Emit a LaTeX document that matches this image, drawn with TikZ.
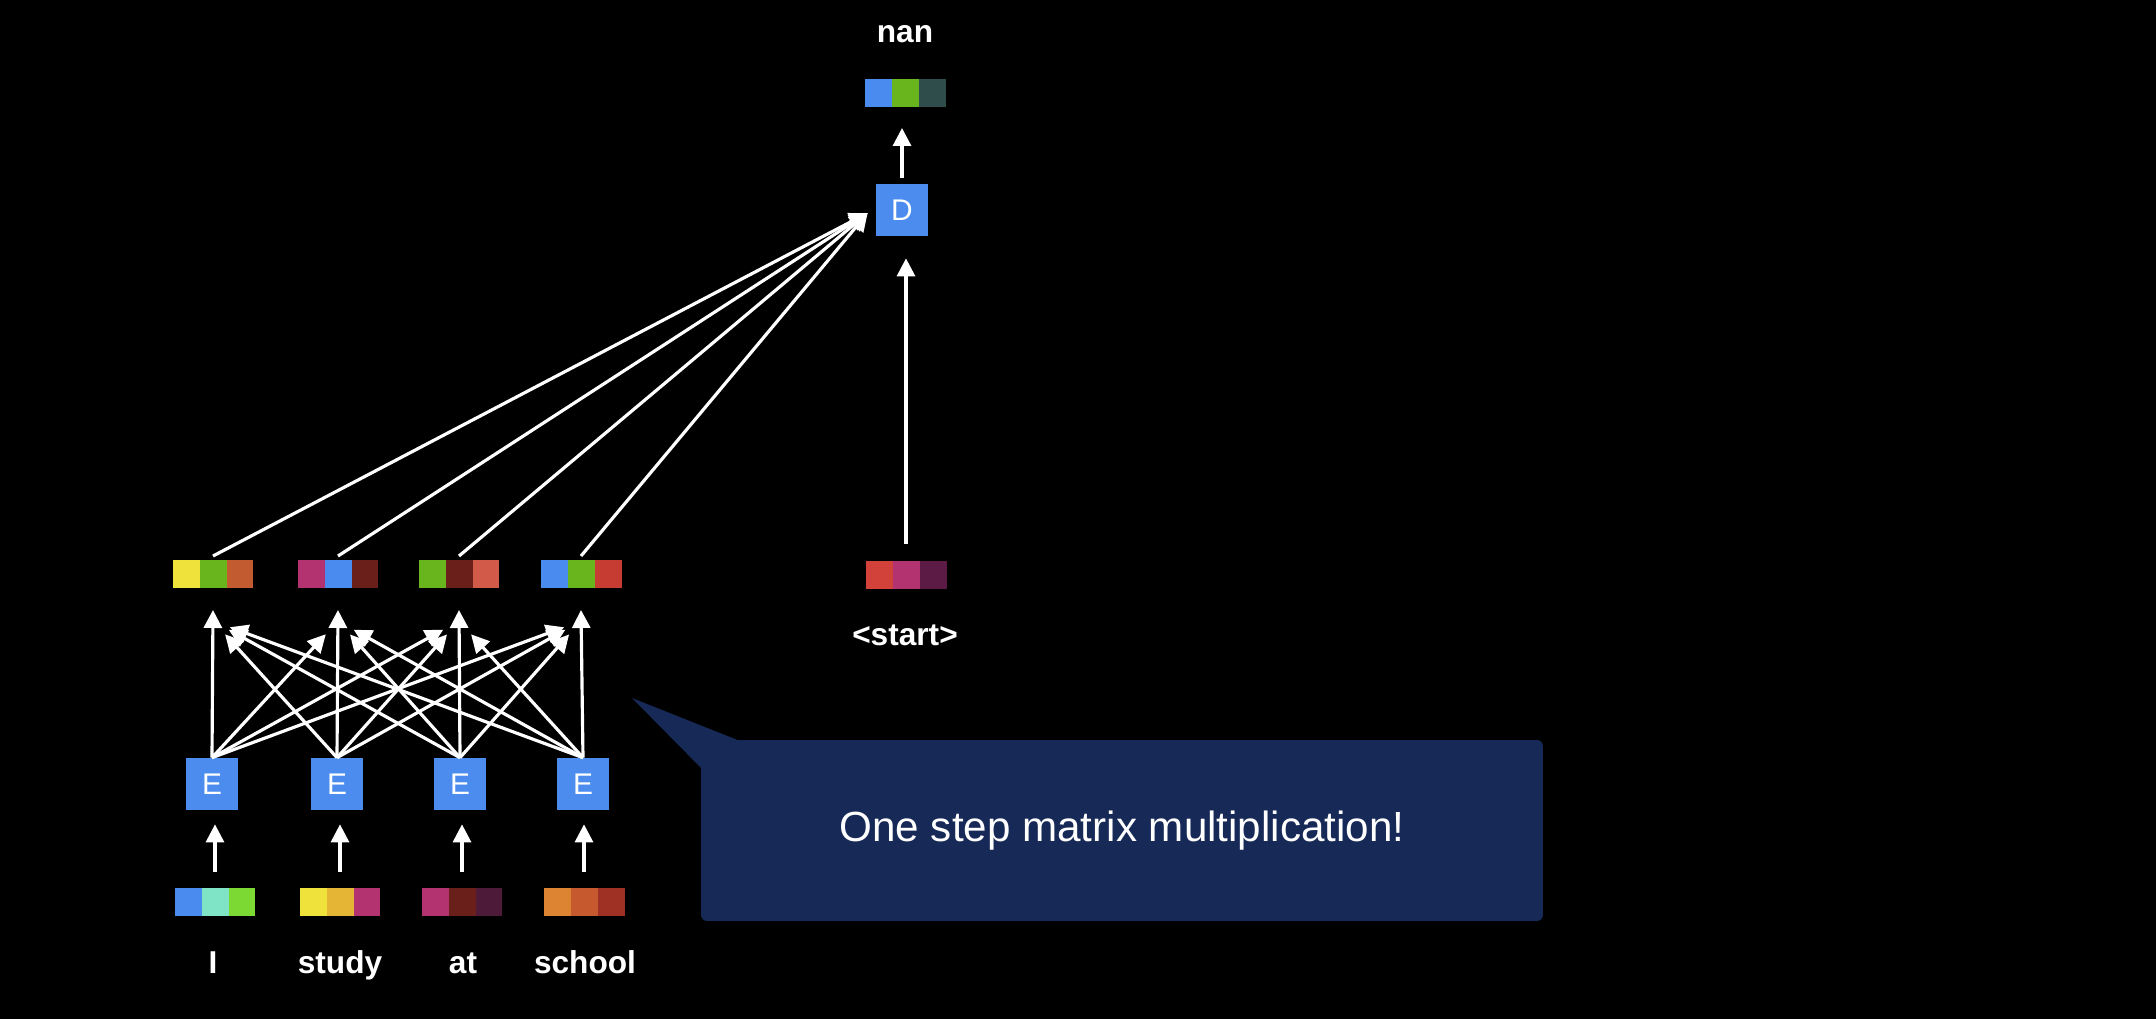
\documentclass[tikz,border=0pt]{standalone}
\usepackage{fontspec}
\setmainfont{Liberation Sans}
\usetikzlibrary{positioning}
\usetikzlibrary{arrows.meta}

\definecolor{boxblue}{HTML}{4B8CEE}
\definecolor{noteblue}{HTML}{172956}
\definecolor{vblue}{HTML}{4A8BEF}
\definecolor{vaqua}{HTML}{7FE3C6}
\definecolor{vlime}{HTML}{7CD934}
\definecolor{vyellow}{HTML}{EFE23A}
\definecolor{vamber}{HTML}{E5B535}
\definecolor{vmagenta}{HTML}{B2336F}
\definecolor{vmaroon}{HTML}{6B1F1B}
\definecolor{vplum}{HTML}{4E1A3A}
\definecolor{vorange}{HTML}{DD8433}
\definecolor{vrust}{HTML}{C65A2E}
\definecolor{vbrick}{HTML}{9E3024}
\definecolor{vgreen}{HTML}{68B51E}
\definecolor{vsienna}{HTML}{C35B30}
\definecolor{vsalmon}{HTML}{D15B48}
\definecolor{vred}{HTML}{C63B32}
\definecolor{vteal}{HTML}{2F4D4A}
\definecolor{vcoral}{HTML}{D2413A}
\definecolor{vwine}{HTML}{5B1B45}

\tikzset{
  unit/.style={fill=boxblue, minimum size=1.04cm, inner sep=0pt, text=white, font=\fontsize{17}{17}\selectfont},
  cell/.style={minimum width=0.54cm, minimum height=0.56cm, inner sep=0pt, outer sep=0pt},
  word/.style={text=white, anchor=base, font=\bfseries\fontsize{18}{18}\selectfont},
  arr/.style={draw=white, line width=1.8pt, -{Triangle[width=0.36cm,length=0.36cm]}},
  note/.style={fill=noteblue, rounded corners=0.12cm, minimum width=16.84cm, minimum height=3.62cm, text=white, font=\fontsize{24}{24}\selectfont}
}

% three coloured cells, the middle one carries the name
\newcommand{\wordvec}[5]{%
  \node[cell, fill=#4] (#1) at #2 {};
  \node[cell, fill=#3, left=0pt of #1] (#1l) {};
  \node[cell, fill=#5, right=0pt of #1] (#1r) {};
}

\begin{document}
\begin{tikzpicture}[x=0.02cm, y=-0.02cm]

\useasboundingbox (0,0) rectangle (2156,1018);
\fill[black] (-20,-20) rectangle (2176,1038);

% input words
\wordvec{b1}{(215,902)}{vblue}{vaqua}{vlime}
\wordvec{b2}{(340,902)}{vyellow}{vamber}{vmagenta}
\wordvec{b3}{(462,902)}{vmagenta}{vmaroon}{vplum}
\wordvec{b4}{(584,902)}{vorange}{vrust}{vbrick}
\node[word] (w1) at (213,973) {I};
\node[word] (w2) at (340,973) {study};
\node[word] (w3) at (463,973) {at};
\node[word] (w4) at (585,973) {school};

% encoders
\node[unit] (e1) at (212,784) {E};
\node[unit] (e2) at (337,784) {E};
\node[unit] (e3) at (460,784) {E};
\node[unit] (e4) at (583,784) {E};

\draw[arr, shorten <=0.32cm, shorten >=0.28cm] (b1.north) -- (b1.north |- e1.south);
\draw[arr, shorten <=0.32cm, shorten >=0.28cm] (b2.north) -- (b2.north |- e2.south);
\draw[arr, shorten <=0.32cm, shorten >=0.28cm] (b3.north) -- (b3.north |- e3.south);
\draw[arr, shorten <=0.32cm, shorten >=0.28cm] (b4.north) -- (b4.north |- e4.south);

% hidden states
\wordvec{h1}{(213,574)}{vyellow}{vgreen}{vsienna}
\wordvec{h2}{(338,574)}{vmagenta}{vblue}{vmaroon}
\wordvec{h3}{(459,574)}{vgreen}{vmaroon}{vsalmon}
\wordvec{h4}{(581,574)}{vblue}{vgreen}{vred}

\coordinate (t1) at ([yshift=-0.44cm]h1.south);
\coordinate (t2) at ([yshift=-0.44cm]h2.south);
\coordinate (t3) at ([yshift=-0.44cm]h3.south);
\coordinate (t4) at ([yshift=-0.44cm]h4.south);
\coordinate (c1) at ([yshift=-0.66cm]h1.south);
\coordinate (c2) at ([yshift=-0.66cm]h2.south);
\coordinate (c3) at ([yshift=-0.66cm]h3.south);
\coordinate (c4) at ([yshift=-0.66cm]h4.south);

\draw[arr] (e1.north) -- (t1);
\draw[arr] (e2.north) -- (t2);
\draw[arr] (e3.north) -- (t3);
\draw[arr] (e4.north) -- (t4);
\draw[arr, shorten >=0.36cm] (e2.north) -- (c1);
\draw[arr, shorten >=0.36cm] (e3.north) -- (c1);
\draw[arr, shorten >=0.36cm] (e4.north) -- (c1);
\draw[arr, shorten >=0.36cm] (e1.north) -- (c2);
\draw[arr, shorten >=0.36cm] (e3.north) -- (c2);
\draw[arr, shorten >=0.36cm] (e4.north) -- (c2);
\draw[arr, shorten >=0.36cm] (e1.north) -- (c3);
\draw[arr, shorten >=0.36cm] (e2.north) -- (c3);
\draw[arr, shorten >=0.36cm] (e4.north) -- (c3);
\draw[arr, shorten >=0.36cm] (e1.north) -- (c4);
\draw[arr, shorten >=0.36cm] (e2.north) -- (c4);
\draw[arr, shorten >=0.36cm] (e3.north) -- (c4);

% decoder
\node[unit] (d) at (902,210) {D};
\coordinate (dt) at ([xshift=-0.16cm, yshift=-0.06cm]d.west);

\draw[arr] ([yshift=0.08cm]h1.north) -- (dt);
\draw[arr] ([yshift=0.08cm]h2.north) -- (dt);
\draw[arr] ([yshift=0.08cm]h3.north) -- (dt);
\draw[arr] ([yshift=0.08cm]h4.north) -- (dt);

\wordvec{o}{(905,93)}{vblue}{vgreen}{vteal}
\node[word] (nan) at (905,42) {nan};
\draw[arr, shorten >=0.42cm] ([yshift=0.12cm]d.north) -- (d.north |- o.south);

\wordvec{s}{(906,575)}{vcoral}{vmagenta}{vwine}
\node[word] (start) at (905,645) {<start>};
\draw[arr, shorten <=0.34cm, shorten >=0.44cm] (s.north) -- (s.north |- d.south);

% speech bubble
\node[note] (note) at (1122,830.5) {One step matrix multiplication!};
\coordinate (tip) at (632,698);
\fill[noteblue] ([xshift=0.72cm]note.north west) -- (tip) -- ([yshift=-0.56cm]note.north west) -- cycle;

\end{tikzpicture}
\end{document}
